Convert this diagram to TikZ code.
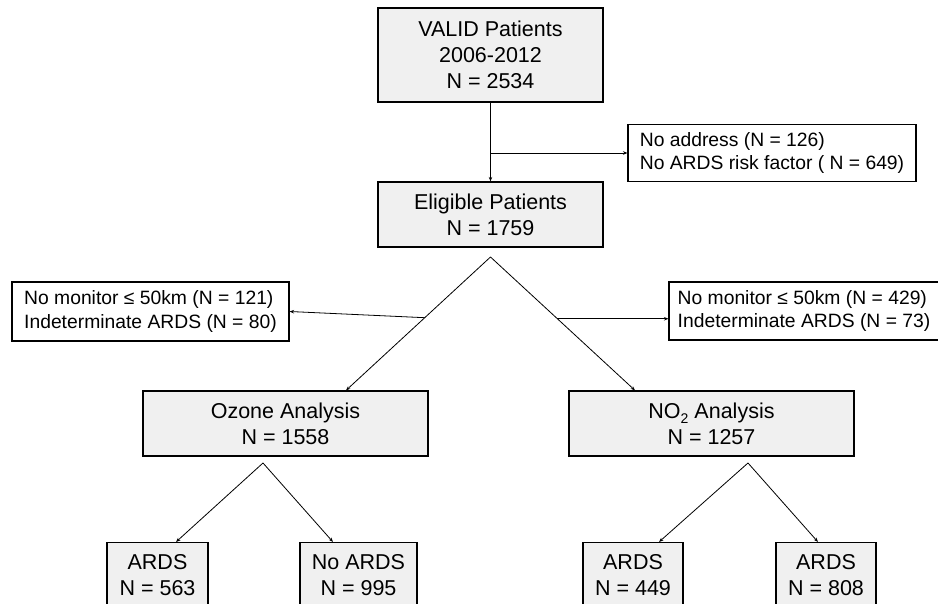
\documentclass[tikz,border=0pt]{standalone}
\usepackage{fontspec}
\setmainfont{Liberation Sans}
\usetikzlibrary{arrows.meta}
\definecolor{boxgray}{HTML}{F0F0F0}
\newcommand{\subtwo}{\raisebox{-5pt}{\fontsize{14}{14}\selectfont 2}}
\tikzset{
    mainbox/.style={draw=black,line width=1.2pt,fill=boxgray,align=center,inner sep=0pt,
        font=\fontsize{21.5}{26}\selectfont},
    exclbox/.style={draw=black,line width=1.1pt,fill=white,align=left,inner sep=0pt,
        font=\fontsize{19.3}{23.2}\selectfont},
    arr/.style={line width=0.8pt,-{Stealth[length=4.5pt,width=3.5pt]}}
}
\begin{document}
\begin{tikzpicture}[x=1pt,y=-1pt]

    \clip (0,0) rectangle (938,604);	%page frame

    %MAIN STEPS
    \node[mainbox,minimum width=225,minimum height=94] (valid) at (490.5,55) {VALID Patients\\2006-2012\\N = 2534};
    \node[mainbox,minimum width=225,minimum height=65] (elig) at (490.5,214.5) {Eligible Patients\\N = 1759};
    \node[mainbox,minimum width=285,minimum height=65] (ozone) at (285.5,423.5) {Ozone Analysis\\N = 1558};
    \node[mainbox,minimum width=285,minimum height=65] (no2) at (711.5,423.5) {NO\subtwo{} Analysis\\N = 1257};

    %OUTCOMES (cut off by the bottom edge)
    \node[mainbox,anchor=north,minimum width=101,minimum height=64] (oards) at (157.5,542) {ARDS\\N = 563};
    \node[mainbox,anchor=north,minimum width=117,minimum height=64] (onoards) at (358.5,542) {No ARDS\\N = 995};
    \node[mainbox,anchor=north,minimum width=100,minimum height=64] (nards) at (633,542) {ARDS\\N = 449};
    \node[mainbox,anchor=north,minimum width=100,minimum height=64] (nnoards) at (826,542) {ARDS\\N = 808};

    %EXCLUSIONS
    \node[exclbox,minimum width=288,minimum height=57] (addr) at (772,153) {No address (N = 126)\\No ARDS risk factor ( N = 649)};
    \node[exclbox,minimum width=277,minimum height=59] (lexcl) at (150.5,311.5) {No monitor ≤ 50km (N = 121)\\Indeterminate ARDS (N = 80)};
    \node[exclbox,minimum width=270,minimum height=58] (rexcl) at (804,311) {No monitor ≤ 50km (N = 429)\\Indeterminate ARDS (N = 73)};

    %split points
    \coordinate (split) at (490.5,257);
    \coordinate (osplit) at (263,463);
    \coordinate (nsplit) at (748,463);

    %CONNECTORS
    \draw[arr] (valid) -- (elig);
    \draw[arr] (valid.south |- addr.west) -- (addr.west);
    \draw[arr] (split) -- coordinate[pos=0.455] (lmid) ([xshift=60.5pt]ozone.north);
    \draw[arr] (split) -- coordinate[pos=0.463] (rmid) ([xshift=-76.5pt]no2.north);
    \draw[arr] (lmid) -- (lexcl.east);
    \draw[arr] (rmid) -- (rmid -| rexcl.west);
    \draw[arr] (osplit) -- ([xshift=18.5pt]oards.north);
    \draw[arr] (osplit) -- ([xshift=-25.5pt]onoards.north);
    \draw[arr] (nsplit) -- ([xshift=26pt]nards.north);
    \draw[arr] (nsplit) -- ([xshift=-8pt]nnoards.north);

\end{tikzpicture}
\end{document}
